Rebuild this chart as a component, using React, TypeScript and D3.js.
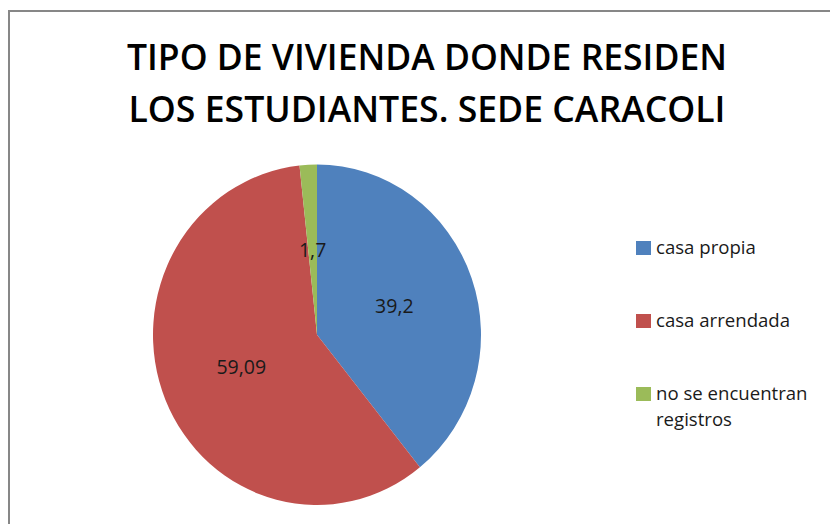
import React from "react";
import * as d3 from "d3";

const categories = ["casa propia", "casa arrendada", "no se encuentran registros"];
const values = [39.2, 59.09, 1.7];
const labels = ["39,2", "59,09", "1,7"];
const legendLines = [["casa propia"], ["casa arrendada"], ["no se encuentran", "registros"]];
const colors = ["#4F81BD", "#C0504D", "#9BBB59"];
const titleLines = ["TIPO DE VIVIENDA DONDE RESIDEN", "LOS ESTUDIANTES. SEDE CARACOLI"];

export default function App() {
  const W = 830, H = 524;
  const cx = 317, cy = 334.8, rx = 164, ry = 170.2;
  const pie = d3.pie<number>().sort(null).value((d) => d)(values);
  const arc = d3.arc<d3.PieArcDatum<number>>().innerRadius(0).outerRadius(rx);
  const sy = ry / rx;
  const font = "'Open Sans', 'Noto Sans', sans-serif";
  const legendY = d3.scalePoint<number>().domain([0, 1, 2]).range([248, 394]);

  return (
    <svg width={W} height={H} style={{ position: "absolute", left: 0, top: 0, display: "block" }}>
      <rect x={0} y={0} width={W} height={H} fill="#fff" />
      <rect x={9} y={11} width={1000} height={800} fill="#fff" stroke="#878787" strokeWidth={2} />
      {titleLines.map((t, i) => (
        <text
          key={i}
          x={427}
          y={70 + i * 52}
          textAnchor="middle"
          fontFamily={font}
          fontWeight={600}
          fontSize={36.5}
          fill="#000"
          textLength={i === 0 ? 600 : 597}
          lengthAdjust="spacingAndGlyphs"
        >
          {t}
        </text>
      ))}
      <g transform={`translate(${cx},${cy}) scale(1,${sy})`}>
        {pie.map((p, i) => (
          <path key={i} d={arc(p) || ""} fill={colors[i]} />
        ))}
      </g>
      {pie.map((p, i) => {
        const [x, y] = arc.centroid(p);
        return (
          <text
            key={i}
            x={cx + x}
            y={cy + y * sy + 7}
            textAnchor="middle"
            fontFamily={font}
            fontSize={19.5}
            fill="#1a1a1a"
          >
            {labels[i]}
          </text>
        );
      })}
      {categories.map((c, i) => {
        const y = legendY(i) as number;
        return (
          <g key={c}>
            <rect x={636} y={y - 7} width={15} height={14} fill={colors[i]} />
            {legendLines[i].map((l, j) => (
              <text
                key={j}
                x={656}
                y={y + 6 + j * 25.5}
                fontFamily={font}
                fontSize={18.6}
                fill="#1a1a1a"
              >
                {l}
              </text>
            ))}
          </g>
        );
      })}
    </svg>
  );
}
